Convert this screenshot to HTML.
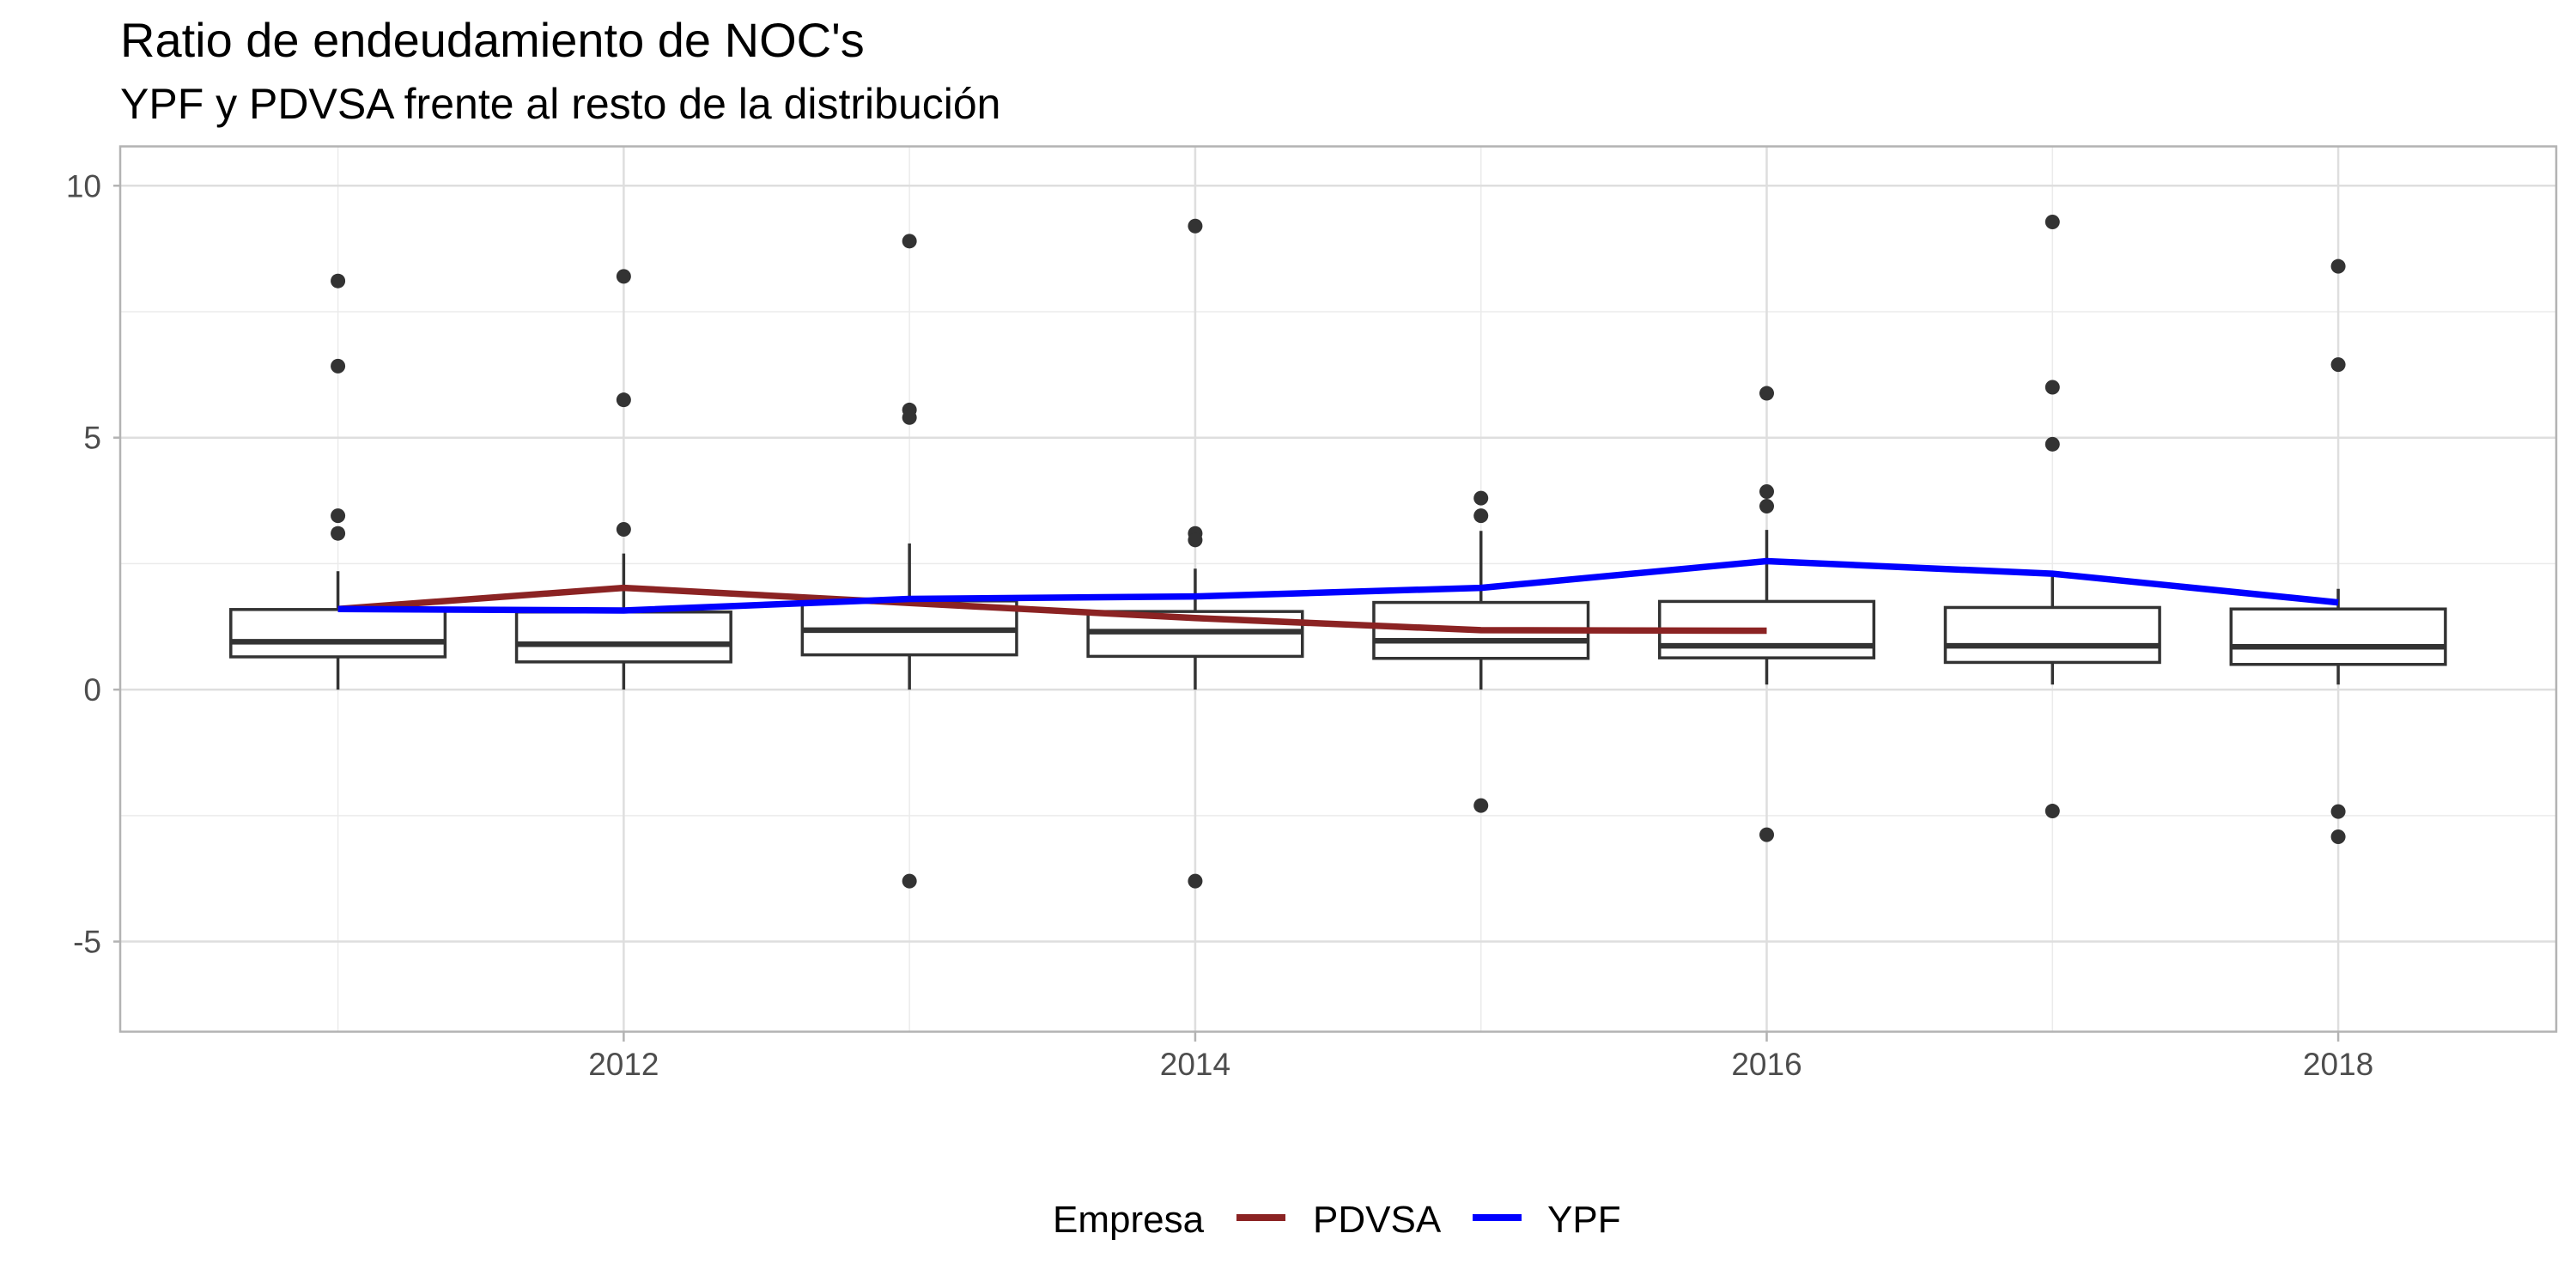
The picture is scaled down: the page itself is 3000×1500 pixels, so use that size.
<!DOCTYPE html>
<html><head><meta charset="utf-8"><style>
html,body{margin:0;padding:0;background:#fff;}
svg{display:block;font-family:"Liberation Sans",Arial,sans-serif;}
</style></head><body>
<svg id="chart" width="3000" height="1500" viewBox="0 0 3000 1500" xmlns="http://www.w3.org/2000/svg">
<rect x="0" y="0" width="3000" height="1500" fill="#fff"/>
<text x="140" y="66" font-size="56" fill="#000">Ratio de endeudamiento de NOC's</text>
<text x="140" y="138" font-size="50" fill="#000">YPF y PDVSA frente al resto de la distribución</text>
<g id="grid"></g>
<g id="boxes"></g>
<g id="lines"></g>
<rect x="140" y="170.5" width="2837" height="1031" fill="none" stroke="#b3b3b3" stroke-width="2.5"/>
<g id="axes"></g>
<g>
<text x="1226" y="1435" font-size="44" fill="#000">Empresa</text>
<line x1="1440" y1="1418" x2="1497" y2="1418" stroke="#8B2323" stroke-width="8"/>
<text x="1529" y="1435" font-size="44" fill="#000">PDVSA</text>
<line x1="1715" y1="1418" x2="1772" y2="1418" stroke="#0000FF" stroke-width="8"/>
<text x="1802" y="1435" font-size="44" fill="#000">YPF</text>
</g>
</svg>
<script>
const years = [2011, 2012, 2013, 2014, 2015, 2016, 2017, 2018];
const q1 = [0.65, 0.55, 0.69, 0.66, 0.62, 0.63, 0.54, 0.50];
const medians = [0.95, 0.90, 1.18, 1.15, 0.97, 0.87, 0.87, 0.85];
const q3 = [1.59, 1.54, 1.76, 1.55, 1.73, 1.75, 1.63, 1.60];
const whiskerLow = [0.0, 0.0, 0.0, 0.0, 0.0, 0.1, 0.1, 0.1];
const whiskerHigh = [2.35, 2.70, 2.90, 2.40, 3.15, 3.17, 2.28, 2.00];
const outliers = [
  [8.11, 6.42, 3.45, 3.10],
  [8.20, 5.75, 3.18],
  [8.90, 5.55, 5.40, -3.80],
  [9.20, 3.10, 2.97, -3.80],
  [3.80, 3.45, -2.30],
  [5.88, 3.93, 3.64, -2.88],
  [9.28, 6.00, 4.87, -2.41],
  [8.40, 6.45, -2.42, -2.92]
];
const pdvsaYears = [2011, 2012, 2013, 2014, 2015, 2016];
const pdvsaValues = [1.60, 2.02, 1.72, 1.42, 1.18, 1.17];
const ypfYears = [2011, 2012, 2013, 2014, 2015, 2016, 2017, 2018];
const ypfValues = [1.60, 1.57, 1.80, 1.85, 2.02, 2.55, 2.30, 1.73];
const yTicks = [-5, 0, 5, 10];
const yMinor = [-2.5, 2.5, 7.5];
const xTicks = [2012, 2014, 2016, 2018];
const xMinor = [2011, 2013, 2015, 2017];

const NS = "http://www.w3.org/2000/svg";
const X0 = 140, X1 = 2977, Y0 = 170.5, Y1 = 1201;
const xMin = 2010.238, xMax = 2018.763, yMin = -6.78, yMax = 10.78;
function xs(v){ return X0 + (v - xMin) / (xMax - xMin) * (X1 - X0); }
function ys(v){ return Y1 - (v - yMin) / (yMax - yMin) * (Y1 - Y0); }
function mk(tag, attrs, parent){
  const e = document.createElementNS(NS, tag);
  for (const k in attrs) e.setAttribute(k, attrs[k]);
  parent.appendChild(e);
  return e;
}
const grid = document.getElementById('grid');
const axes = document.getElementById('axes');
const boxes = document.getElementById('boxes');
const lines = document.getElementById('lines');

yMinor.forEach(v => {
  const l = mk('line', {x1:X0, x2:X1, y1:ys(v), y2:ys(v), stroke:'#ebebeb', 'stroke-width':1.5}, grid);
  
  
});
xMinor.forEach(v => {
  const l = mk('line', {x1:xs(v), x2:xs(v), y1:Y0, y2:Y1, stroke:'#ebebeb', 'stroke-width':1.5}, grid);
  
  
});
yTicks.forEach(v => {
  const l = mk('line', {x1:X0, x2:X1, y1:ys(v), y2:ys(v), stroke:'#dedede', 'stroke-width':2.5}, grid);
  
  
  const t = mk('line', {x1:X0-8, x2:X0, y1:ys(v), y2:ys(v), stroke:'#b3b3b3', 'stroke-width':2.5}, axes);
  
  
  const tx = mk('text', {x:X0-22, y:ys(v)+13, 'text-anchor':'end', 'font-size':37, fill:'#4d4d4d'}, axes);
  tx.textContent = String(v);
  
  
});
xTicks.forEach(v => {
  const l = mk('line', {x1:xs(v), x2:xs(v), y1:Y0, y2:Y1, stroke:'#dedede', 'stroke-width':2.5}, grid);
  
  
  const t = mk('line', {x1:xs(v), x2:xs(v), y1:Y1, y2:Y1+12, stroke:'#b3b3b3', 'stroke-width':2.5}, axes);
  
  
  const tx = mk('text', {x:xs(v), y:1252, 'text-anchor':'middle', 'font-size':37, fill:'#4d4d4d'}, axes);
  tx.textContent = String(v);
  
  
});

const halfW = 0.375;
years.forEach((yr, i) => {
  const g = mk('g', {}, boxes);
  
  
  const cx = xs(yr);
  const w1 = mk('line', {x1:cx, x2:cx, y1:ys(q3[i]), y2:ys(whiskerHigh[i]), stroke:'#333', 'stroke-width':3.5}, g);
  
  
  const w2 = mk('line', {x1:cx, x2:cx, y1:ys(q1[i]), y2:ys(whiskerLow[i]), stroke:'#333', 'stroke-width':3.5}, g);
  
  
  const r = mk('rect', {x:xs(yr-halfW), y:ys(q3[i]), width:xs(yr+halfW)-xs(yr-halfW), height:ys(q1[i])-ys(q3[i]), fill:'#fff', stroke:'#333', 'stroke-width':3.5}, g);
  
  
  const m = mk('line', {x1:xs(yr-halfW), x2:xs(yr+halfW), y1:ys(medians[i]), y2:ys(medians[i]), stroke:'#333', 'stroke-width':6.5}, g);
  
  
  outliers[i].forEach(v => {
    const c = mk('circle', {cx:cx, cy:ys(v), r:8.5, fill:'#333'}, g);
    
    
  });
});

function drawLine(xv, yv, color, name){
  const pts = xv.map((x, i) => xs(x).toFixed(1) + ',' + ys(yv[i]).toFixed(1)).join(' ');
  const p = mk('polyline', {points:pts, fill:'none', stroke:color, 'stroke-width':7.5, 'stroke-linejoin':'round'}, lines);
  
  
}
drawLine(pdvsaYears, pdvsaValues, '#8B2323', 'line-pdvsa');
drawLine(ypfYears, ypfValues, '#0000FF', 'line-ypf');
</script>
</body></html>
